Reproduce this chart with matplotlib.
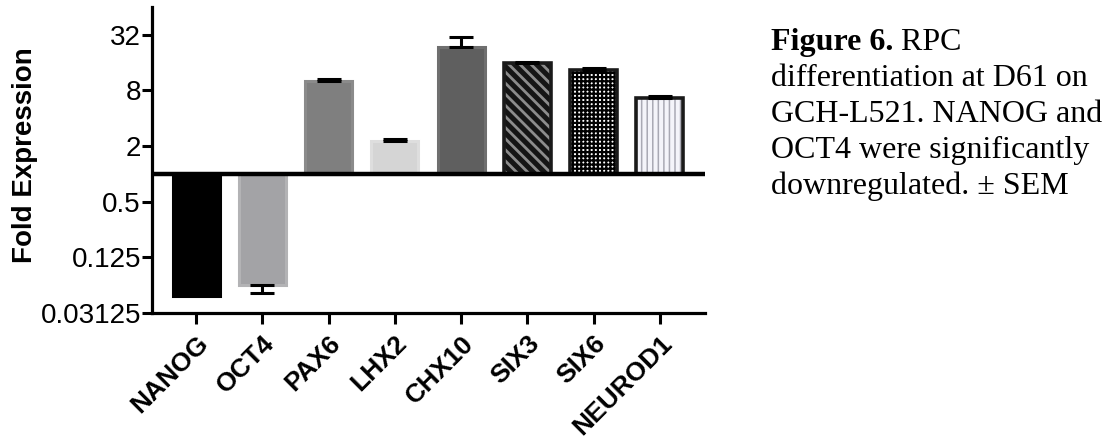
import matplotlib
matplotlib.use("Agg")
import matplotlib.pyplot as plt
import numpy as np

genes = ["NANOG", "OCT4", "PAX6", "LHX2", "CHX10", "SIX3", "SIX6", "NEUROD1"]
fold = [0.048, 0.0625, 10.2, 2.26, 23.8, 15.7, 13.4, 6.7]
sem = [0.0, 0.0105, 0.5, 0.1, 6.6, 0.7, 0.5, 0.2]
ytick_vals = [0.03125, 0.125, 0.5, 2, 8, 32]
ytick_labels = ["0.03125", "0.125", "0.5", "2", "8", "32"]
caption_bold = "Figure 6."
caption_lines = [" RPC", "differentiation at D61 on", "GCH-L521. NANOG and",
                 "OCT4 were significantly", "downregulated. \u00b1 SEM"]

plt.rcParams["font.family"] = ["Liberation Sans", "DejaVu Sans"]
plt.rcParams["hatch.linewidth"] = 1.6

W, H = 1109, 441
fig = plt.figure(figsize=(W / 100, H / 100), dpi=100)
ax = fig.add_axes([152 / W, 1 - 313 / H, (705 - 152) / W, (313 - 7) / H])
ax.set_yscale("log", base=2)
ax.set_ylim(0.03125, 64)
ax.set_xlim(-0.665, 7.68)

x = np.arange(len(genes))
bw = 0.71
fold = np.array(fold)
heights = fold - 1.0

solid_face = ["#000000", "#a3a3a6", "#7f7f7f", "#d5d5d5", "#5f5f5f"]
solid_edge = ["#000000", "#b3b3b5", "#8b8b8b", "#dedede", "#6f6f6f"]
for i in range(5):
    ax.bar(x[i], heights[i], bottom=1, width=bw, color=solid_face[i],
           edgecolor=solid_edge[i], linewidth=2.2, zorder=2)

pat_face = ["#151515", "#ffffff", "#f4f4fa"]
pat_hatch = ["#8c8c8c", "#000000", "#a9a9b4"]
pats = ["\\\\\\", "++++", "|||"]
hlw = [2.0, 1.6, 1.1]
for j, i in enumerate(range(5, 8)):
    with plt.rc_context({"hatch.linewidth": hlw[j]}):
        ax.bar(x[i], heights[i], bottom=1, width=bw, color=pat_face[j],
               edgecolor=pat_hatch[j], hatch=pats[j], linewidth=0, zorder=2)
    ax.bar(x[i], heights[i], bottom=1, width=bw, fill=False,
           edgecolor="#1a1a1a", linewidth=2.6, zorder=3)

sem = np.array(sem)
lower = np.where(fold < 1, sem, 0)
upper = np.where(fold >= 1, sem, 0)
show = sem > 0
ax.errorbar(x[show], fold[show], yerr=[lower[show], upper[show]], fmt="none",
            ecolor="black", elinewidth=2.2, capsize=8.3, capthick=2.2, zorder=4)

ax.axhline(1, color="black", linewidth=3.2, zorder=5)

for s in ["top", "right"]:
    ax.spines[s].set_visible(False)
for s in ["left", "bottom"]:
    ax.spines[s].set_linewidth(2.3)

ax.set_yticks(ytick_vals)
ax.set_yticklabels(ytick_labels)
ax.yaxis.set_minor_locator(matplotlib.ticker.NullLocator())
ax.tick_params(axis="y", length=7, width=2.2, labelsize=20, pad=1)
ax.set_xticks(x)
ax.set_xticklabels(genes, rotation=45, ha="right", rotation_mode="anchor",
                   fontsize=19, fontweight="bold")
ax.tick_params(axis="x", length=8, width=2.2, pad=5)
ax.set_ylabel("Fold Expression", fontsize=20, fontweight="bold")
ax.yaxis.set_label_coords(-0.206, 0.515)

cx = 771 / W
fs = 23
base0 = 50
step = 36
t1 = fig.text(cx, 1 - base0 / H, caption_bold, fontsize=fs, fontweight="bold",
              family=["Liberation Serif"], va="baseline", ha="left")
fig.canvas.draw()
bb = t1.get_window_extent()
fig.text(bb.x1 / W, 1 - base0 / H, caption_lines[0], fontsize=fs,
         family=["Liberation Serif"], va="baseline", ha="left")
for k, line in enumerate(caption_lines[1:], start=1):
    fig.text(cx, 1 - (base0 + k * step) / H, line, fontsize=fs,
             family=["Liberation Serif"], va="baseline", ha="left")

fig.savefig("out.png", dpi=100)
